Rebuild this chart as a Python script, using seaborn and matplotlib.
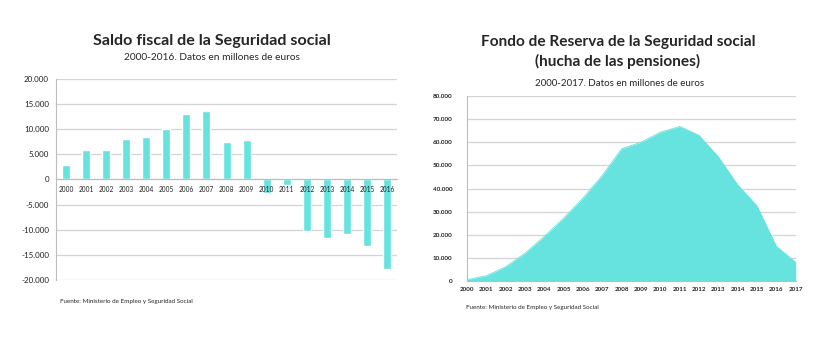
import numpy as np
import pandas as pd
import seaborn as sns
import matplotlib.pyplot as plt
from matplotlib.ticker import FuncFormatter, FixedLocator

# datos (millones de euros)
years_saldo = [str(y) for y in range(2000, 2017)]
saldo = [2800, 5800, 5900, 8050, 8450, 10000, 13000, 13650, 7400, 7800,
         -2600, -1100, -10300, -11700, -10900, -13200, -17900]

years_fondo = list(range(2000, 2018))
fondo = [601, 2278, 6168, 12025, 19330, 27190, 35879, 45716, 57223, 60022,
         64375, 66815, 63008, 53744, 41634, 32481, 15020, 8095]

turq = '#66E3DE'
grid_c = '#D4D4D4'

sns.set_style('white')
plt.rcParams['font.family'] = ['Lato', 'DejaVu Sans']

def miles(v, pos):
    return f'{int(v):,}'.replace(',', '.')

fig = plt.figure(figsize=(8.28, 3.49), dpi=100)

# ---- saldo fiscal (barras)
ax1 = fig.add_axes([0.0676, 0.1977, 0.412, 0.576])
df1 = pd.DataFrame({'year': years_saldo, 'saldo': saldo})
sns.barplot(data=df1, x='year', y='saldo', color=turq, saturation=1,
            width=0.4, ax=ax1, zorder=2)
ax1.set_ylim(-20000, 20000)
ax1.set_xlim(-0.5, len(years_saldo) - 0.5)
ax1.set_yticks(np.arange(-20000, 20001, 5000))
ax1.yaxis.set_major_formatter(FuncFormatter(miles))
ax1.grid(axis='y', color=grid_c, lw=0.9, zorder=0)
ax1.set_axisbelow(True)
ax1.xaxis.set_zorder(5)  # etiquetas de años por encima de las barras
for s in ['top', 'right']:
    ax1.spines[s].set_visible(False)
ax1.spines['left'].set_color('#BDBDBD')
ax1.spines['bottom'].set_position(('data', 0))
ax1.spines['bottom'].set_color('#BDBDBD')
ax1.xaxis.set_minor_locator(FixedLocator(np.arange(-0.5, len(years_saldo), 1)))
ax1.tick_params(axis='x', which='major', length=0, pad=5, labelsize=4.7, colors='#222222')
ax1.tick_params(axis='x', which='minor', length=3, color='#BDBDBD', direction='out')
ax1.tick_params(axis='y', length=0, pad=5, labelsize=5.8, colors='#222222')
ax1.set_xlabel('')
ax1.set_ylabel('')

fig.text(212 / 828, 1 - 41 / 349, 'Saldo fiscal de la Seguridad social',
         ha='center', va='center', fontsize=11.6, fontweight='bold')
fig.text(212 / 828, 1 - 58 / 349, '2000-2016. Datos en millones de euros',
         ha='center', va='center', fontsize=7.3)
fig.text(60 / 828, 1 - 302 / 349, 'Fuente: Ministerio de Empleo y Seguridad Social',
         ha='left', va='center', fontsize=4.5)

# ---- fondo de reserva (area)
ax2 = fig.add_axes([0.5640, 0.1948, 0.397, 0.530])
df2 = pd.DataFrame({'year': years_fondo, 'fondo': fondo})
sns.lineplot(data=df2, x='year', y='fondo', color=turq, lw=0.6, ax=ax2, zorder=3)
ax2.fill_between(df2['year'], df2['fondo'], color=turq, lw=0, zorder=2)
ax2.set_xlim(2000, 2017)
ax2.set_ylim(0, 80000)
ax2.set_xticks(years_fondo)
ax2.set_yticks(np.arange(0, 80001, 10000))
ax2.yaxis.set_major_formatter(FuncFormatter(miles))
ax2.grid(axis='y', color=grid_c, lw=0.9, zorder=0)
ax2.set_axisbelow(True)
for s in ['top', 'right']:
    ax2.spines[s].set_visible(False)
ax2.spines['left'].set_color('#BDBDBD')
ax2.spines['bottom'].set_color('#BDBDBD')
ax2.tick_params(axis='x', length=2.5, color='#BDBDBD', pad=2, labelsize=4.5,
                labelcolor='#222222')
ax2.tick_params(axis='y', length=2.5, color='#BDBDBD', pad=8, labelsize=4.6,
                labelcolor='#222222')
for lab in ax2.get_xticklabels() + ax2.get_yticklabels():
    lab.set_fontweight('bold')
ax2.set_xlabel('')
ax2.set_ylabel('')

fig.text(618 / 828, 1 - 42 / 349, 'Fondo de Reserva de la Seguridad social',
         ha='center', va='center', fontsize=11.1, fontweight='bold')
fig.text(618 / 828, 1 - 61 / 349, '(hucha de las pensiones)',
         ha='center', va='center', fontsize=11.1, fontweight='bold')
fig.text(620 / 828, 1 - 83 / 349, '2000-2017. Datos en millones de euros',
         ha='center', va='center', fontsize=7.0)
fig.text(466 / 828, 1 - 308 / 349, 'Fuente: Ministerio de Empleo y Seguridad Social',
         ha='left', va='center', fontsize=4.5)

fig.savefig('out.png', dpi=100)
